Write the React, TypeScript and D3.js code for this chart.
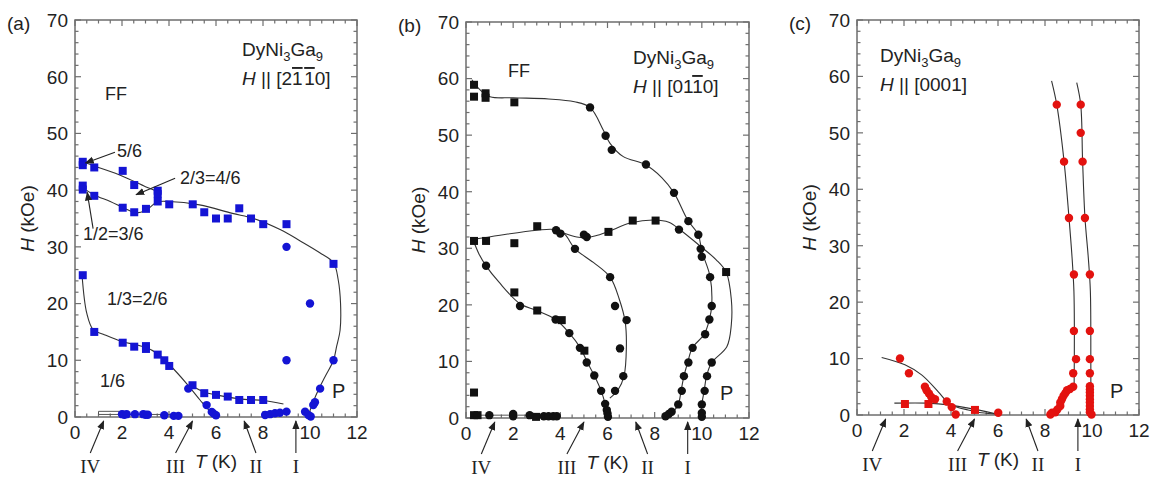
import React from 'react';
import * as d3 from 'd3';

type P = [number, number];

// ---------- axis ticks ----------
const xTickValues = [0, 2, 4, 6, 8, 10, 12];
const yTickValues = [0, 10, 20, 30, 40, 50, 60, 70];
const romanLabels = ['IV', 'III', 'II', 'I'];
const romanHeadT = [1.22, 5.0, 7.2, 9.4];
const romanTailT = [0.65, 4.28, 7.7, 9.4];

// ---------- panel (a) H || [2-1-10] ----------
const aSquares: P[] = [
  [0.33, 45.0], [0.33, 44.4], [0.82, 44.0], [2.03, 43.4], [2.52, 40.9], [3.52, 39.9], [3.52, 39.3],
  [3.52, 38.0], [4.01, 37.5], [5.01, 37.5], [5.5, 36.1], [6.0, 35.0], [6.5, 35.0], [6.99, 36.8],
  [7.49, 35.0], [8.01, 34.0], [9.0, 34.0],
  [0.33, 40.8], [0.33, 40.1], [0.82, 39.0], [2.03, 36.9], [2.52, 36.1], [3.02, 36.7],
  [11.0, 27.0],
  [0.33, 25.0], [0.82, 15.0], [2.03, 13.1], [2.52, 12.4], [3.02, 12.5], [3.02, 12.0], [3.52, 11.0],
  [3.8, 10.0], [4.01, 9.0], [5.0, 5.6], [5.5, 4.2], [6.0, 3.9], [6.5, 3.6], [6.99, 3.0], [7.49, 3.0], [8.01, 3.0],
];
const aCircles: P[] = [
  [9.0, 30.0], [10.0, 20.0], [9.0, 10.0], [11.0, 10.0], [10.43, 5.0], [10.21, 2.6], [10.14, 2.1],
  [4.82, 5.0], [5.6, 2.1], [5.82, 0.9], [5.9, 0.6], [6.0, 0.3],
  [2.0, 0.5], [2.1, 0.4], [2.2, 0.5], [2.55, 0.5], [2.9, 0.5], [3.0, 0.4], [3.1, 0.4], [3.8, 0.3], [4.2, 0.2], [4.4, 0.2],
  [8.09, 0.35], [8.3, 0.5], [8.51, 0.65], [8.72, 0.75], [9.0, 0.95], [9.79, 0.94], [9.93, 0.35], [10.03, 0.1],
];
const aCurveUpper: P[] = [
  [0.2, 45.2], [1.0, 44.0], [2.0, 42.5], [3.0, 40.6], [3.45, 39.8], [3.58, 39.0], [3.52, 38.0],
];
const aCurveLower: P[] = [
  [0.2, 40.8], [0.8, 39.2], [1.5, 38.0], [2.1, 36.8], [2.6, 36.0], [3.0, 36.4], [3.5, 37.9], [4.0, 38.0],
  [5.3, 37.4], [6.7, 35.9], [7.6, 35.0], [8.75, 33.0], [9.6, 31.0], [10.4, 29.0], [11.0, 27.2], [11.2, 24.2],
  [11.3, 20.0], [11.28, 15.3], [11.13, 12.4], [11.0, 10.0], [10.64, 7.1], [10.36, 4.8], [10.14, 2.7], [9.93, 0.3],
];
const aCurveThird: P[] = [
  [0.3, 25.0], [0.5, 18.3], [0.77, 15.4], [1.2, 14.6], [2.0, 13.3], [3.0, 12.3], [3.5, 11.2], [4.0, 9.3],
  [4.75, 5.9], [5.32, 3.0], [5.7, 1.2], [6.0, 0.2],
];
const aCurveBranch: P[] = [
  [4.9, 5.7], [5.5, 4.4], [6.0, 3.9], [7.0, 3.2], [8.0, 2.9], [8.87, 2.3],
];
const aLowLine1: P[] = [[1.0, 1.0], [2.1, 1.0]];
const aLowLine2: P[] = [[1.0, 0.45], [1.0, 1.0]];
const aLowLine3: P[] = [[1.0, 0.45], [4.5, 0.45]];

// ---------- panel (b) H || [01-10] ----------
const bSquares: P[] = [
  [0.34, 58.9], [0.34, 56.8], [0.83, 57.4], [0.83, 56.6], [2.05, 55.8],
  [3.02, 33.9], [6.04, 32.9], [7.07, 34.9], [8.04, 34.9], [11.03, 25.8],
  [0.34, 31.3], [0.85, 31.3], [2.05, 30.9], [2.05, 22.2], [3.02, 19.0], [4.06, 17.3], [5.02, 11.9],
  [0.34, 4.5], [0.34, 0.5], [0.49, 0.5], [2.97, 0.2],
];
const bCircles: P[] = [
  [5.26, 54.9], [5.92, 49.9], [6.18, 47.4], [7.63, 44.8], [8.82, 39.8], [9.43, 34.8], [9.85, 32.4],
  [3.82, 33.2], [4.0, 32.6], [5.12, 32.0], [5.0, 32.4], [9.03, 33.3],
  [0.85, 26.9], [2.29, 19.8], [3.8, 17.4], [4.38, 15.0], [4.83, 12.4], [5.12, 9.8], [5.44, 7.5], [5.73, 4.8],
  [5.9, 2.5], [5.97, 1.4], [6.0, 0.8], [6.02, 0.2],
  [4.62, 29.9], [6.11, 24.9], [6.32, 19.8], [6.81, 17.3], [6.53, 12.3], [6.67, 7.4], [6.32, 4.8],
  [9.95, 29.9], [10.0, 28.5], [10.35, 24.9], [10.42, 19.8], [10.32, 17.4], [10.14, 14.8], [9.61, 12.4],
  [9.43, 9.8], [9.24, 7.4], [9.15, 4.8], [9.0, 2.4], [8.72, 1.1], [8.6, 0.7], [8.46, 0.3],
  [10.42, 9.8], [10.22, 7.4], [10.12, 4.8], [10.0, 2.4], [10.0, 0.9], [10.0, 0.2],
  [0.99, 0.5], [2.0, 0.7], [2.0, 0.3], [2.7, 0.5], [3.3, 0.3], [3.5, 0.3], [3.7, 0.3], [3.85, 0.3],
];
const bCurveUpper: P[] = [
  [0.25, 59.8], [0.6, 58.0], [1.02, 56.8], [2.0, 56.6], [3.5, 56.4], [4.6, 55.9], [5.26, 54.9], [5.82, 50.9],
  [6.1, 48.6], [6.67, 46.2], [7.6, 44.8], [8.3, 42.5], [8.82, 39.8], [9.4, 35.0], [9.85, 32.4], [10.0, 29.5],
  [10.35, 25.0], [10.42, 20.0], [10.32, 17.4], [10.1, 14.8], [9.6, 12.4], [9.4, 9.8], [9.24, 7.4],
  [9.12, 4.8], [9.0, 2.4], [8.75, 1.0], [8.45, 0.1],
];
const bCurveMiddle: P[] = [
  [3.8, 33.3], [4.2, 32.6], [4.7, 32.0], [5.1, 31.9], [5.5, 32.2], [6.0, 32.9], [7.0, 34.5], [8.0, 35.0],
  [8.6, 34.6], [9.1, 33.2], [9.9, 30.5], [10.6, 28.0], [11.03, 25.8], [11.25, 21.0], [11.25, 16.5],
  [11.06, 12.6], [10.42, 9.8], [10.2, 7.4], [10.1, 4.8], [10.0, 2.4], [10.0, 0.1],
];
const bCurveLoop: P[] = [
  [0.24, 31.5], [1.44, 32.3], [3.0, 33.2], [3.8, 33.3], [4.2, 32.4], [4.62, 29.9], [5.4, 27.5], [6.11, 24.9],
  [6.5, 21.0], [6.75, 17.0], [6.8, 12.5], [6.7, 7.4], [6.45, 5.0], [6.1, 3.5],
];
const bCurveLower: P[] = [
  [0.3, 31.5], [0.55, 29.0], [0.85, 26.9], [1.4, 24.0], [2.29, 20.2], [3.0, 19.0], [3.8, 17.4], [4.38, 15.0],
  [4.85, 12.4], [5.15, 9.8], [5.44, 7.5], [5.73, 4.8], [5.9, 2.5], [6.0, 0.1],
];
const bLowLine: P[] = [[0.3, 0.5], [4.0, 0.5]];

// ---------- panel (c) H || [0001] ----------
const cCircles: P[] = [
  [8.5, 55], [9.52, 55], [9.52, 50], [8.81, 44.9], [9.6, 44.9], [9.02, 34.9], [9.7, 34.9], [9.23, 24.9],
  [9.91, 24.9], [9.23, 14.9], [9.91, 14.9], [9.32, 9.9], [9.91, 9.9], [9.2, 7.4], [9.91, 7.4], [9.2, 5.0], [9.91, 5.1],
  [9.06, 4.6], [8.94, 4.4], [8.87, 3.9], [8.79, 3.4], [8.72, 2.8], [8.65, 2.2], [8.65, 1.6], [8.53, 1.0],
  [8.44, 0.5], [8.3, 0.4], [8.23, 0.1],
  [9.91, 4.5], [9.91, 4.0], [9.91, 3.4], [9.91, 2.8], [9.91, 2.2], [9.91, 1.6], [9.91, 1.0], [9.91, 0.5], [9.98, 0.1],
  [1.83, 10.0], [2.21, 7.4], [2.89, 5.0], [2.96, 4.4], [3.06, 3.8], [3.16, 3.2], [3.32, 2.8], [3.82, 2.4],
  [4.03, 1.4], [4.2, 0.1], [6.01, 0.4],
];
const cSquares: P[] = [[2.04, 1.95], [3.04, 1.95], [5.02, 0.9]];
const cCurveLeft: P[] = [
  [8.28, 59.2], [8.5, 55], [8.81, 45], [9.02, 35], [9.15, 28], [9.23, 22], [9.25, 15], [9.24, 5.2],
];
const cCurveRight: P[] = [
  [9.35, 58.9], [9.52, 55], [9.6, 45], [9.7, 35], [9.84, 28], [9.93, 22], [9.95, 10], [9.95, 0.1],
];
const cCurveUpper: P[] = [
  [1.05, 10.2], [2.04, 8.9], [2.75, 7.1], [3.46, 4.1], [3.82, 2.4], [4.17, 1.5], [4.73, 0.9], [5.3, 0.4], [6.0, 0.2],
];
const cCurveLower: P[] = [
  [1.59, 2.1], [3.04, 2.1], [3.89, 1.8], [5.02, 1.0], [5.9, 0.2],
];

// ---------- styling ----------
const FONT = '"Liberation Sans", Arial, Helvetica, sans-serif';
const SERIF = '"Liberation Serif", "Times New Roman", serif';
const BLUE = '#1414d4';
const RED = '#e3120f';
const BLACK = '#111';

type Geo = { left: number; right: number; top: number; bottom: number };
type TextItem = { t: number; h: number; text: string; size?: number };
type ArrowItem = { from: P; to: P };

interface PanelProps {
  geo: Geo;
  letter: string;
  color: string;
  squares: P[];
  circles: P[];
  curves: P[][];
  lines: P[][];
  texts: TextItem[];
  arrows: ArrowItem[];
  titleX: number;
  titleY: number;
  direction: React.ReactNode;
  idx: string;
}

function Panel(props: PanelProps) {
  const { geo, letter, color, squares, circles, curves, lines, texts, arrows, titleX, titleY, direction, idx } = props;
  const x = d3.scaleLinear().domain([0, 12]).range([geo.left, geo.right]);
  const y = d3.scaleLinear().domain([0, 70]).range([geo.bottom, geo.top]);
  const smooth = d3.line<P>().x((d) => x(d[0])).y((d) => y(d[1])).curve(d3.curveCatmullRom.alpha(0.5));
  const straight = d3.line<P>().x((d) => x(d[0])).y((d) => y(d[1]));
  const xMinor = d3.range(0, 12.001, 0.5);
  const yMinor = d3.range(0, 70.001, 2);
  const frame = '#6e6e6e';
  const tickEls: React.ReactNode[] = [];
  xMinor.forEach((v, i) => {
    const major = Math.abs(v % 2) < 1e-6;
    const len = major ? 6 : 3.5;
    const px = x(v);
    tickEls.push(<line key={'xb' + i} x1={px} x2={px} y1={geo.bottom} y2={geo.bottom - len} stroke={frame} strokeWidth={1.2} />);
    tickEls.push(<line key={'xt' + i} x1={px} x2={px} y1={geo.top} y2={geo.top + len} stroke={frame} strokeWidth={1.2} />);
  });
  yMinor.forEach((v, i) => {
    const major = Math.abs(v % 10) < 1e-6;
    const len = major ? 6 : 3.5;
    const py = y(v);
    tickEls.push(<line key={'yl' + i} x1={geo.left} x2={geo.left + len} y1={py} y2={py} stroke={frame} strokeWidth={1.2} />);
    tickEls.push(<line key={'yr' + i} x1={geo.right} x2={geo.right - len} y1={py} y2={py} stroke={frame} strokeWidth={1.2} />);
  });
  const cy = (geo.top + geo.bottom) / 2;
  return (
    <g fontFamily={FONT} fill="#222">
      {/* panel letter */}
      <text x={geo.left - 68} y={geo.top + 10} fontSize={19}>{letter}</text>
      {/* frame */}
      <rect x={geo.left} y={geo.top} width={geo.right - geo.left} height={geo.bottom - geo.top} fill="none" stroke={frame} strokeWidth={1.5} />
      {tickEls}
      {/* tick labels */}
      {xTickValues.map((v) => (
        <text key={'xl' + v} x={x(v)} y={geo.bottom + 22} fontSize={19} textAnchor="middle">{v}</text>
      ))}
      {yTickValues.map((v) => (
        <text key={'yl' + v} x={geo.left - 7} y={y(v)} dy="0.36em" fontSize={19} textAnchor="end">{v}</text>
      ))}
      {/* axis titles */}
      <text transform={`translate(${geo.left - 48},${cy}) rotate(-90)`} fontSize={19} textAnchor="middle" dy="0.35em">
        <tspan fontStyle="italic">H</tspan> (kOe)
      </text>
      <text x={x(6)} y={geo.bottom + 51} fontSize={19} textAnchor="middle">
        <tspan fontStyle="italic">T</tspan> (K)
      </text>
      {/* roman numeral arrows */}
      {romanLabels.map((r, i) => (
        <g key={'r' + i}>
          <line x1={x(romanTailT[i])} y1={geo.bottom + 36} x2={x(romanHeadT[i])} y2={geo.bottom + 4} stroke="#222" strokeWidth={1.1} markerEnd={`url(#arr${idx})`} />
          <text x={x(romanTailT[i])} y={geo.bottom + 56} fontFamily={SERIF} fontSize={19} textAnchor="middle">{r}</text>
        </g>
      ))}
      {/* title */}
      <text x={geo.left + titleX} y={geo.top + titleY} fontSize={19}>
        DyNi<tspan dy={5} fontSize={13}>3</tspan><tspan dy={-5}>Ga</tspan><tspan dy={5} fontSize={13}>9</tspan>
      </text>
      <text x={geo.left + titleX} y={geo.top + titleY + 29} fontSize={19}>
        {direction}
      </text>
      {/* curves */}
      {curves.map((c, i) => (
        <path key={'c' + i} d={smooth(c) || ''} fill="none" stroke="#333" strokeWidth={1.1} />
      ))}
      {lines.map((c, i) => (
        <path key={'l' + i} d={straight(c) || ''} fill="none" stroke="#555" strokeWidth={1} />
      ))}
      {/* markers */}
      {squares.map((d, i) => (
        <rect key={'s' + i} x={x(d[0]) - 4} y={y(d[1]) - 4} width={8} height={8} fill={color} />
      ))}
      {circles.map((d, i) => (
        <circle key={'o' + i} cx={x(d[0])} cy={y(d[1])} r={4.2} fill={color} />
      ))}
      {/* annotations */}
      {texts.map((t, i) => (
        <text key={'t' + i} x={x(t.t)} y={y(t.h)} fontSize={t.size || 18}>{t.text}</text>
      ))}
      {arrows.map((a, i) => (
        <line key={'a' + i} x1={x(a.from[0])} y1={y(a.from[1])} x2={x(a.to[0])} y2={y(a.to[1])} stroke="#222" strokeWidth={1.1} markerEnd={`url(#arr${idx})`} />
      ))}
    </g>
  );
}

const ob = (s: string) => <tspan style={{ textDecoration: 'overline' }}>{s}</tspan>;

export default function App() {
  const geoA: Geo = { left: 75, right: 357, top: 20, bottom: 417 };
  const geoB: Geo = { left: 466, right: 749, top: 22, bottom: 418 };
  const geoC: Geo = { left: 857, right: 1139, top: 20, bottom: 415 };
  return (
    <svg width={1156} height={477} style={{ position: 'absolute', left: 0, top: 0, background: '#fff' }}>
      <defs>
        {['a', 'b', 'c'].map((k) => (
          <marker key={k} id={'arr' + k} viewBox="0 0 10 10" refX={9} refY={5} markerWidth={9} markerHeight={9} markerUnits="userSpaceOnUse" orient="auto">
            <path d="M0,1 L10,5 L0,9 Z" fill="#222" />
          </marker>
        ))}
      </defs>
      <rect x={0} y={0} width={1156} height={477} fill="#fff" />
      <Panel
        idx="a"
        geo={geoA}
        letter="(a)"
        color={BLUE}
        squares={aSquares}
        circles={aCircles}
        curves={[aCurveUpper, aCurveLower, aCurveThird, aCurveBranch]}
        lines={[aLowLine1, aLowLine2, aLowLine3]}
        texts={[
          { t: 1.28, h: 55.9, text: 'FF' },
          { t: 1.79, h: 45.8, text: '5/6' },
          { t: 4.47, h: 41.1, text: '2/3=4/6' },
          { t: 0.34, h: 31.2, text: '1/2=3/6' },
          { t: 1.36, h: 19.7, text: '1/3=2/6' },
          { t: 1.06, h: 5.3, text: '1/6' },
          { t: 10.94, h: 3.35, text: 'P', size: 20 },
        ]}
        arrows={[
          { from: [1.7, 46.7], to: [0.45, 44.8] },
          { from: [4.26, 42.1], to: [2.6, 39.2] },
          { from: [0.77, 33.2], to: [0.52, 39.6] },
        ]}
        titleX={167}
        titleY={36}
        direction={<><tspan fontStyle="italic">H</tspan> || [2{ob('1')}{'\u200A'}{ob('1')}0]</>}
      />
      <Panel
        idx="b"
        geo={geoB}
        letter="(b)"
        color={BLACK}
        squares={bSquares}
        circles={bCircles}
        curves={[bCurveUpper, bCurveMiddle, bCurveLoop, bCurveLower]}
        lines={[bLowLine]}
        texts={[
          { t: 1.78, h: 60.3, text: 'FF' },
          { t: 10.77, h: 3.2, text: 'P', size: 20 },
        ]}
        arrows={[]}
        titleX={167}
        titleY={42}
        direction={<><tspan fontStyle="italic">H</tspan> || [01{ob('1')}0]</>}
      />
      <Panel
        idx="c"
        geo={geoC}
        letter="(c)"
        color={RED}
        squares={cSquares}
        circles={cCircles}
        curves={[cCurveLeft, cCurveRight, cCurveUpper, cCurveLower]}
        lines={[]}
        texts={[{ t: 10.77, h: 3.0, text: 'P', size: 20 }]}
        arrows={[]}
        titleX={23}
        titleY={42}
        direction={<><tspan fontStyle="italic">H</tspan> || [0001]</>}
      />
    </svg>
  );
}
